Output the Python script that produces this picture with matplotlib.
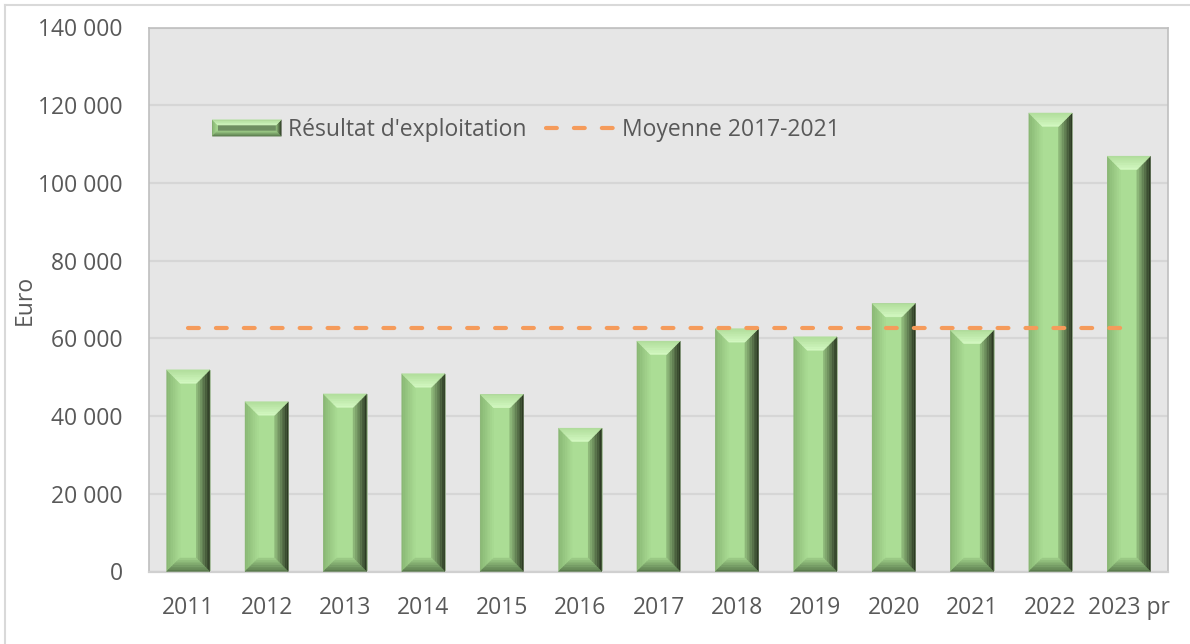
import matplotlib
matplotlib.use("Agg")
import matplotlib.pyplot as plt
import numpy as np
from matplotlib.patches import Polygon, Rectangle
from matplotlib.lines import Line2D
from matplotlib.legend_handler import HandlerBase
import matplotlib.colors as mcolors

# ---- data ----
years = ["2011", "2012", "2013", "2014", "2015", "2016", "2017", "2018",
         "2019", "2020", "2021", "2022", "2023 pr"]
resultat = [51900, 43700, 45700, 50900, 45600, 36900, 59300, 62500,
            60400, 69000, 62100, 118000, 106900]
moyenne = [62660] * len(years)
yticks = [0, 20000, 40000, 60000, 80000, 100000, 120000, 140000]
ytick_labels = ["0", "20 000", "40 000", "60 000", "80 000", "100 000", "120 000", "140 000"]

label_bar = "Résultat d'exploitation"
label_line = "Moyenne 2017-2021"
ylabel = "Euro"

FONT = "Open Sans"
FS = 16.5
TXT = "#595959"
FACE = "#abdd95"
ORANGE = "#f59b5b"
# bevel colours (outer edge, inner edge)
TOP = ("#b0dd9a", "#d4f9c3")
LEFT = ("#88b673", "#a9db93")
RIGHT = ("#26311e", "#93bf7e")
BOTTOM = ("#56764a", "#9fcf89")

plt.rcParams['font.family'] = [FONT, 'DejaVu Sans']

fig = plt.figure(figsize=(11.9, 6.44), dpi=100)
ax = fig.add_axes([149/1190, 1 - 571.5/644, (1168-149)/1190, (571.5-27.5)/644])
ax.set_facecolor("#e6e6e6")

x = np.arange(len(years))
ax.set_xlim(-0.5, len(years) - 0.5)
ax.set_ylim(0, 140000)

bbox = ax.get_window_extent()
px_x = (ax.get_xlim()[1] - ax.get_xlim()[0]) / bbox.width
px_y = (ax.get_ylim()[1] - ax.get_ylim()[0]) / bbox.height

ax.set_axisbelow(True)
ax.yaxis.grid(True, color="#d6d6d6", linewidth=1.6)
ax.xaxis.grid(False)

bars = ax.bar(x, resultat, width=0.55, color=FACE, edgecolor="#a3b89a",
              linewidth=0.6, zorder=2)


def lerp(c1, c2, t):
    a = np.array(mcolors.to_rgb(c1))
    b = np.array(mcolors.to_rgb(c2))
    return tuple(a + (b - a) * t)


def side_strips(o1, o2, i1, i2, cols, n=8):
    """Trapezoid from outer edge (o1,o2) to inner edge (i1,i2), split in n strips."""
    polys = []
    o1, o2, i1, i2 = map(np.array, (o1, o2, i1, i2))
    for k in range(n):
        a, b = k / n, (k + 1) / n
        pa1 = o1 + (i1 - o1) * a
        pa2 = o2 + (i2 - o2) * a
        pb1 = o1 + (i1 - o1) * b
        pb2 = o2 + (i2 - o2) * b
        polys.append(([pa1, pa2, pb2, pb1], lerp(cols[0], cols[1], (a + b) / 2)))
    return polys


def bevel_polys(x0, y0, w, h, dx, dy):
    x1, y1 = x0 + w, y0 + h
    dy = min(dy, h / 2)
    ix0, ix1, iy0, iy1 = x0 + dx, x1 - dx, y0 + dy, y1 - dy
    out = []
    out += side_strips((x0, y0), (x0, y1), (ix0, iy0), (ix0, iy1), LEFT)
    out += side_strips((x1, y0), (x1, y1), (ix1, iy0), (ix1, iy1), RIGHT)
    out += side_strips((x0, y1), (x1, y1), (ix0, iy1), (ix1, iy1), TOP)
    out += side_strips((x0, y0), (x1, y0), (ix0, iy0), (ix1, iy0), BOTTOM)
    return out


d = 13.5
for r in bars:
    for pts, col in bevel_polys(r.get_x(), r.get_y(), r.get_width(), r.get_height(),
                                d * px_x, d * px_y):
        ax.add_patch(Polygon(pts, closed=True, facecolor=col, edgecolor=col,
                             linewidth=0.3, zorder=3))

line, = ax.plot(x, moyenne, color=ORANGE, linewidth=3, linestyle=(0, (2.6, 4.1)),
                dash_capstyle='round', zorder=4)

ax.set_yticks(yticks)
ax.set_yticklabels(ytick_labels)
ax.set_xticks(x)
ax.set_xticklabels(years)
ax.tick_params(axis='both', length=0, labelsize=FS, colors=TXT)
ax.tick_params(axis='y', pad=19)
ax.tick_params(axis='x', pad=18)
ax.set_ylabel(ylabel, fontsize=FS, color=TXT)
ax.yaxis.set_label_coords(-0.11, 0.5)

for s in ['left', 'right', 'top']:
    ax.spines[s].set_color("#bfbfbf")
    ax.spines[s].set_linewidth(1.2)
ax.spines['bottom'].set_color("#d0d0d0")
ax.spines['bottom'].set_linewidth(1.6)


class BevelHandler(HandlerBase):
    def create_artists(self, legend, orig_handle, xdescent, ydescent, width, height,
                       fontsize, trans):
        x0, y0 = -xdescent, -ydescent
        arts = [Rectangle((x0, y0), width, height, facecolor="#6f8f62",
                          edgecolor="none", transform=trans)]
        dd = height * 0.32
        for pts, col in bevel_polys(x0, y0, width, height, dd, dd):
            arts.append(Polygon(pts, closed=True, facecolor=col, edgecolor=col,
                                linewidth=0.3, transform=trans))
        return arts


leg = ax.legend([bars, line], [label_bar, label_line], ncol=2, frameon=False,
                loc='center left', bbox_to_anchor=((201 - 149) / 1019, (571.5 - 130) / 544),
                borderpad=0, handlelength=3.0, handleheight=0.72, handletextpad=0.3,
                columnspacing=0.85, fontsize=FS, labelcolor=TXT,
                handler_map={type(bars): BevelHandler()})

fig.add_artist(Line2D([5/1190, 5/1190], [0, 1 - 5/644], color="#d9d9d9", linewidth=1.5))
fig.add_artist(Line2D([5/1190, 1], [1 - 5/644, 1 - 5/644], color="#d9d9d9", linewidth=1.5))

fig.savefig("out.png", dpi=100)
